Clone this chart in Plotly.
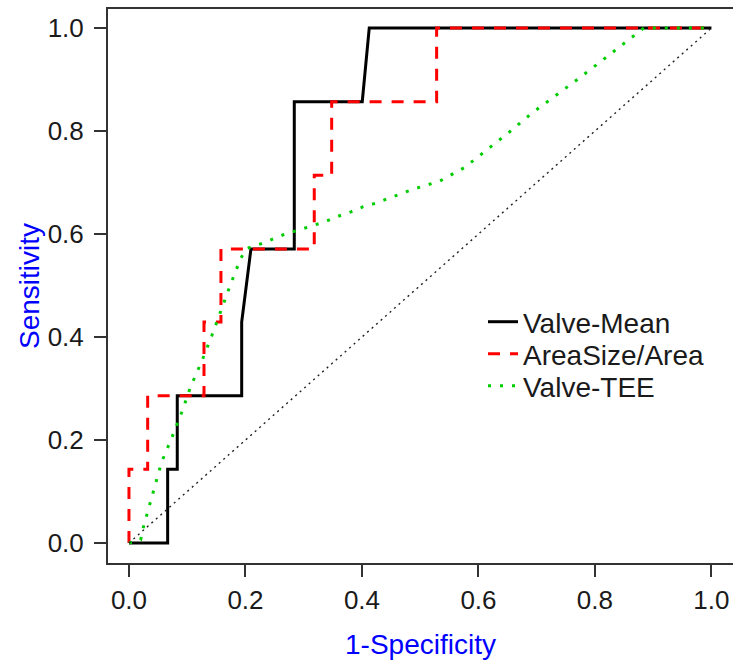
import plotly.graph_objects as go

# Valve-Mean (black solid)
mean_fpr = [0.0, 0.0664, 0.0664, 0.0829, 0.0829, 0.1935, 0.1935, 0.2094, 0.2838, 0.2838, 0.4005, 0.4125, 1.0]
mean_tpr = [0.0, 0.0, 0.143, 0.143, 0.286, 0.286, 0.429, 0.571, 0.571, 0.857, 0.857, 1.0, 1.0]

# AreaSize/Area (red dashed)
area_fpr = [0.0, 0.0, 0.0321, 0.0321, 0.1288, 0.1288, 0.1579, 0.1579, 0.3181, 0.3181, 0.348, 0.348, 0.5282, 0.5282, 1.0]
area_tpr = [0.0, 0.143, 0.143, 0.286, 0.286, 0.429, 0.429, 0.571, 0.571, 0.714, 0.714, 0.857, 0.857, 1.0, 1.0]

# Valve-TEE (green dotted)
tee_fpr = [0.0, 0.020, 0.025, 0.037, 0.056, 0.073, 0.090, 0.106, 0.125, 0.142, 0.158, 0.175, 0.192,
           0.202, 0.227, 0.243, 0.268, 0.292, 0.314, 0.337, 0.358, 0.381, 0.402, 0.424, 0.445, 0.488,
           0.534, 0.576, 0.614, 0.652, 0.691, 0.732, 0.771, 0.810, 0.848, 0.867, 0.884, 1.0]
tee_tpr = [0.0, 0.006, 0.032, 0.080, 0.157, 0.203, 0.252, 0.304, 0.353, 0.402, 0.452, 0.504, 0.553,
           0.572, 0.581, 0.588, 0.600, 0.608, 0.616, 0.624, 0.634, 0.643, 0.653, 0.660, 0.669, 0.687,
           0.703, 0.729, 0.763, 0.797, 0.834, 0.868, 0.901, 0.935, 0.969, 0.986, 1.0, 1.0]

# chance diagonal
diag_x = [0.0, 1.0]
diag_y = [0.0, 1.0]

tick_vals = [0.0, 0.2, 0.4, 0.6, 0.8, 1.0]
tick_text = ["0.0", "0.2", "0.4", "0.6", "0.8", "1.0"]

FONT = "Liberation Sans, Arial, sans-serif"

fig = go.Figure()
fig.add_trace(go.Scatter(x=mean_fpr, y=mean_tpr, mode="lines", name="Valve-Mean", legend="legend",
                         line=dict(color="black", width=3)))
fig.add_trace(go.Scatter(x=area_fpr, y=area_tpr, mode="lines", name="AreaSize/Area", legend="legend2",
                         line=dict(color="#ff0000", width=3, dash="12px,10px")))
fig.add_trace(go.Scatter(x=tee_fpr, y=tee_tpr, mode="lines", name="Valve-TEE", legend="legend3",
                         line=dict(color="#00cd00", width=3, dash="3px,9px")))
fig.add_trace(go.Scatter(x=diag_x, y=diag_y, mode="lines", showlegend=False,
                         line=dict(color="#222222", width=1.4, dash="2px,4px")))

axis_common = dict(
    tickvals=tick_vals, ticktext=tick_text,
    ticks="outside", ticklen=12, tickwidth=1.5, tickcolor="#333333",
    showline=True, linecolor="#333333", linewidth=2,
    showgrid=False, zeroline=False, automargin=False,
    tickfont=dict(family=FONT, size=26, color="#1a1a1a"),
)

leg_common = dict(xanchor="left", yanchor="middle", bgcolor="rgba(0,0,0,0)", borderwidth=0,
                  font=dict(family=FONT, size=28, color="#1a1a1a"))

fig.update_layout(
    width=733, height=661,
    margin=dict(l=108, r=0, t=9, b=98),
    plot_bgcolor="white", paper_bgcolor="white",
    xaxis=dict(range=[-0.036, 1.037], mirror=True, ticklabelstandoff=1,
               title=dict(text="1-Specificity", font=dict(family=FONT, size=28, color="#0000ff"), standoff=20),
               **axis_common),
    yaxis=dict(range=[-0.0388, 1.0369], ticklabelstandoff=5,
               title=dict(text="Sensitivity", font=dict(family=FONT, size=28, color="#0000ff"), standoff=0),
               **axis_common),
    legend=dict(x=0.6, y=0.435, **leg_common),
    legend2=dict(x=0.6, y=0.377, **leg_common),
    legend3=dict(x=0.6, y=0.3195, **leg_common),
    showlegend=True,
)

fig.write_html("out.html", config={"displayModeBar": False},
               post_script="document.body.style.margin='0';document.body.style.overflow='hidden';")
